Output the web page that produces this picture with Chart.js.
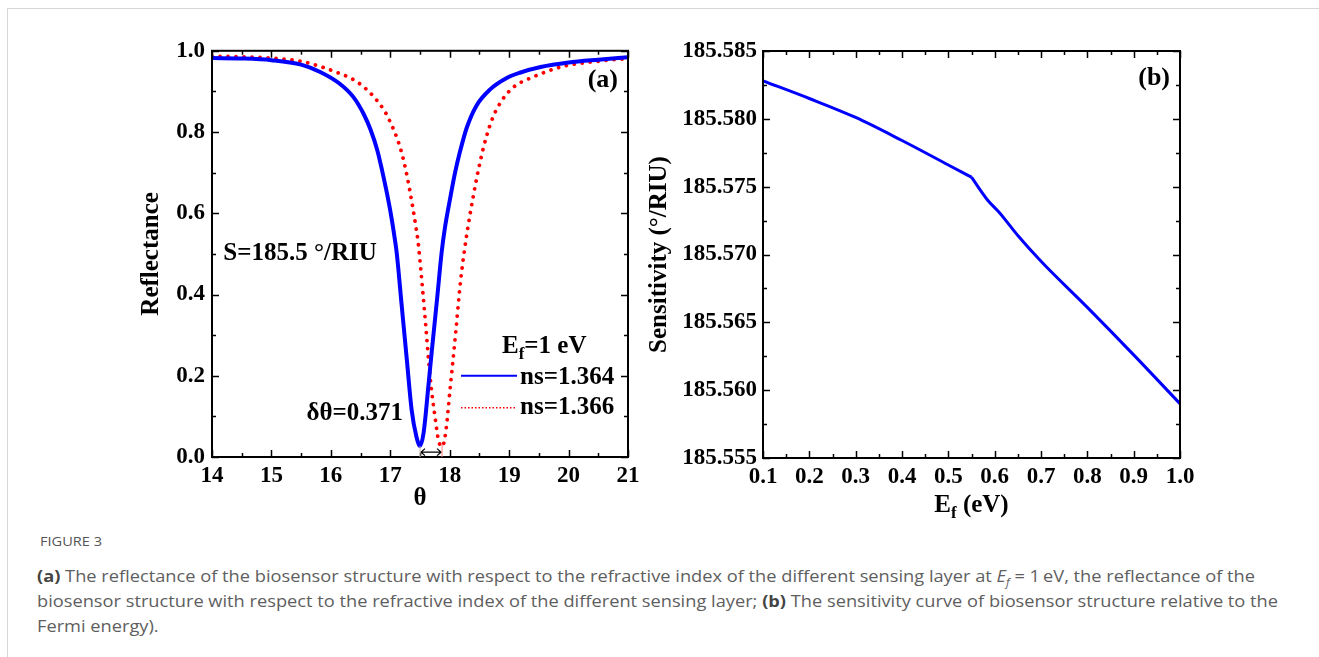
<!DOCTYPE html>
<html><head><meta charset="utf-8">
<script src="https://cdn.jsdelivr.net/npm/chart.js@4.4.0/dist/chart.umd.min.js"></script>
<style>
html,body{margin:0;padding:0;background:#fff;width:1319px;height:657px;overflow:hidden;position:relative;}
#lineTop{position:absolute;left:7px;top:8px;width:1312px;height:1px;background:#d6d6d6;}
#lineLeft{position:absolute;left:7px;top:8px;width:1px;height:649px;background:#d6d6d6;}
#ca{position:absolute;left:130px;top:30px;}
#cb{position:absolute;left:640px;top:30px;}
.cap{position:absolute;left:37px;font-family:'Open Sans';font-size:15.5px;color:#5e5e5e;white-space:nowrap;transform-origin:0 50%;line-height:20px;}
.cap b{color:#444;font-weight:700;}
#fig{position:absolute;left:40px;top:532px;font-family:'Open Sans';font-size:13.5px;color:#555;white-space:nowrap;line-height:18px;transform-origin:0 50%;}
</style></head><body>
<div id="lineTop"></div><div id="lineLeft"></div>
<canvas id="ca" width="520" height="490"></canvas>
<canvas id="cb" width="560" height="490"></canvas>
<div id="fig">FIGURE 3</div>
<div class="cap" id="l1" style="top:566px"><b>(a)</b> The reflectance of the biosensor structure with respect to the refractive index of the different sensing layer at <i>E<sub style="font-size:10px">f</sub></i> = 1&#8201;eV, the reflectance of the</div>
<div class="cap" id="l2" style="top:591px">biosensor structure with respect to the refractive index of the different sensing layer; <b>(b)</b> The sensitivity curve of biosensor structure relative to the</div>
<div class="cap" id="l3" style="top:616px">Fermi energy).</div>
<script>
// ---- data: panel (a) reflectance vs theta ----
const thetaBlue = [14.0,14.5,15.0,15.5,15.82,16.15,16.38,16.55,16.67,16.78,16.86,16.94,17.01,17.08,17.11,17.19,17.28,17.36,17.44,17.50,17.56,17.64,17.70,17.79,17.865,17.92,18.005,18.09,18.17,18.285,18.45,18.68,18.96,19.18,19.53,20.0,20.5,21.0];
const reflBlue  = [0.982,0.981,0.977,0.966,0.948,0.919,0.886,0.845,0.805,0.756,0.707,0.652,0.598,0.533,0.500,0.376,0.237,0.115,0.050,0.027,0.059,0.173,0.263,0.393,0.505,0.565,0.635,0.700,0.750,0.810,0.865,0.905,0.933,0.946,0.960,0.971,0.978,0.984];
const thetaRed  = [14.0,14.5,15.0,15.5,15.85,16.10,16.38,16.57,16.74,16.91,17.02,17.135,17.22,17.29,17.36,17.43,17.47,17.51,17.59,17.67,17.76,17.81,17.87,17.93,18.01,18.10,18.18,18.257,18.313,18.397,18.48,18.565,18.71,18.87,19.07,19.36,19.92,20.48,21.0];
const reflRed   = [0.987,0.985,0.982,0.974,0.960,0.947,0.929,0.909,0.884,0.850,0.818,0.776,0.733,0.686,0.630,0.568,0.527,0.467,0.335,0.197,0.091,0.042,0.025,0.058,0.173,0.305,0.430,0.518,0.572,0.643,0.705,0.760,0.830,0.876,0.910,0.933,0.962,0.974,0.981];
// ---- data: panel (b) sensitivity vs Fermi energy ----
const efValues   = [0.10,0.20,0.30,0.40,0.50,0.55,0.585,0.61,0.65,0.70,0.80,0.90,1.00];
const sensValues = [185.5828,185.5815,185.5801,185.5784,185.5766,185.5757,185.5740,185.5731,185.5714,185.5695,185.5661,185.5626,185.5590];
const kinkEf = 0.55;
// ---- tick labels ----
const xTicksA = [14,15,16,17,18,19,20,21];
const yTicksA = [0.0,0.2,0.4,0.6,0.8,1.0];
const xTicksB = [0.1,0.2,0.3,0.4,0.5,0.6,0.7,0.8,0.9,1.0];
const yTicksB = [185.555,185.560,185.565,185.570,185.575,185.580,185.585];
// ---- texts ----
const seriesLabels = ['ns=1.364','ns=1.366'];
const sensText = 'S=185.5 °/RIU';
const deltaText = 'δθ=0.371';
const blueMinTheta = 17.50, redMinTheta = 17.871;

const SERIF = '"Liberation Serif", "Times New Roman", serif';
const BLUE = '#0000ff', RED = '#ff0000';

function font(sz){ return `bold ${sz}px ${SERIF}`; }
function txt(ctx, s, x, y, sz, align){
  ctx.font = font(sz); ctx.textAlign = align || 'left'; ctx.textBaseline = 'middle';
  ctx.fillStyle = '#000'; ctx.fillText(s, x, y);
}
function subText(ctx, x, y, main, sub, rest, sz, center){
  ctx.font = font(sz); const w1 = ctx.measureText(main).width;
  ctx.font = font(Math.round(sz*0.66)); const w2 = ctx.measureText(sub).width;
  ctx.font = font(sz); const w3 = ctx.measureText(rest).width;
  let x0 = center ? x - (w1+w2+w3)/2 : x;
  txt(ctx, main, x0, y, sz, 'left');
  txt(ctx, sub, x0 + w1, y + sz*0.3, Math.round(sz*0.66), 'left');
  txt(ctx, rest, x0 + w1 + w2, y, sz, 'left');
}

function boxPlugin(extra){
  return { id:'box', afterDatasetsDraw(chart){
    const ctx = chart.ctx, a = chart.chartArea, xs = chart.scales.x, ys = chart.scales.y;
    ctx.save();
    ctx.strokeStyle = '#000'; ctx.lineWidth = 1.5; ctx.lineCap = 'butt';
    const xt = xs.ticks.map(t=>t.value), yt = ys.ticks.map(t=>t.value);
    ctx.beginPath();
    xt.forEach((v,i)=>{
      const p = Math.round(xs.getPixelForValue(v))+0.5;
      ctx.moveTo(p,a.bottom); ctx.lineTo(p,a.bottom-7);
      ctx.moveTo(p,a.top); ctx.lineTo(p,a.top+7);
      if(i<xt.length-1){
        const m = Math.round(xs.getPixelForValue((v+xt[i+1])/2))+0.5;
        ctx.moveTo(m,a.bottom); ctx.lineTo(m,a.bottom-4);
        ctx.moveTo(m,a.top); ctx.lineTo(m,a.top+4);
      }
    });
    yt.forEach((v,i)=>{
      const p = Math.round(ys.getPixelForValue(v))+0.5;
      ctx.moveTo(a.left,p); ctx.lineTo(a.left+7,p);
      ctx.moveTo(a.right,p); ctx.lineTo(a.right-7,p);
      if(i<yt.length-1){
        const m = Math.round(ys.getPixelForValue((v+yt[i+1])/2))+0.5;
        ctx.moveTo(a.left,m); ctx.lineTo(a.left+4,m);
        ctx.moveTo(a.right,m); ctx.lineTo(a.right-4,m);
      }
    });
    ctx.stroke();
    ctx.lineWidth = 2;
    ctx.strokeRect(a.left, a.top, a.right-a.left, a.bottom-a.top);
    if(extra) extra(chart, ctx, a, xs, ys);
    ctx.restore();
  }};
}

function scaleX(min, max, ticks, fmt, title){
  return { type:'linear', min, max,
    afterBuildTicks: s => { s.ticks = ticks.map(v=>({value:v})); },
    afterFit: s => { s.height = title.h; },
    grid:{ display:false, drawTicks:false }, border:{ display:false },
    ticks:{ color:'#000', padding:5, font:{family:SERIF, size:23, weight:'bold'}, callback: v => fmt(v), maxRotation:0, autoSkip:false },
    title: title.text ? { display:true, text:title.text, color:'#000', font:{family:SERIF, size:25, weight:'bold'}, padding:{top:0,bottom:title.pad} } : {display:false}
  };
}
function scaleY(min, max, ticks, fmt, title){
  return { type:'linear', min, max,
    afterBuildTicks: s => { s.ticks = ticks.map(v=>({value:v})); },
    afterFit: s => { s.width = title.w; },
    grid:{ display:false, drawTicks:false }, border:{ display:false },
    ticks:{ color:'#000', padding:title.tp, font:{family:SERIF, size:23, weight:'bold'}, callback: v => fmt(v), autoSkip:false },
    title:{ display:true, text:title.text, color:'#000', font:{family:SERIF, size:25, weight:'bold'}, padding:{top:title.pad,bottom:0} }
  };
}

// ---------- Panel (a) ----------
const extraA = (chart, ctx, a, xs, ys) => {
  txt(ctx, '(a)', a.right-10, a.top+29, 26, 'right');
  txt(ctx, sensText, xs.getPixelForValue(14.19), ys.getPixelForValue(0.50), 25, 'left');
  txt(ctx, deltaText, xs.getPixelForValue(17.215), ys.getPixelForValue(0.108), 25, 'right');
  const x1 = xs.getPixelForValue(blueMinTheta), x2 = xs.getPixelForValue(redMinTheta), ya = ys.getPixelForValue(0.012);
  ctx.strokeStyle = '#000'; ctx.lineWidth = 1.3;
  ctx.beginPath();
  ctx.moveTo(x1+1, ya); ctx.lineTo(x2-1, ya);
  ctx.moveTo(x1+5, ya-3.5); ctx.lineTo(x1+1, ya); ctx.lineTo(x1+5, ya+3.5);
  ctx.moveTo(x2-5, ya-3.5); ctx.lineTo(x2-1, ya); ctx.lineTo(x2-5, ya+3.5);
  ctx.stroke();
  ctx.lineWidth = 1;
  ctx.strokeStyle = '#c8b4b4';
  ctx.beginPath(); ctx.moveTo(x1, ys.getPixelForValue(0.027)); ctx.lineTo(x1, a.bottom); ctx.stroke();
  ctx.strokeStyle = '#ff8080';
  ctx.beginPath(); ctx.moveTo(x2, ys.getPixelForValue(0.03)); ctx.lineTo(x2, a.bottom); ctx.stroke();
  subText(ctx, a.left+290, a.top+296, 'E', 'f', '=1 eV', 25, false);
  ctx.strokeStyle = BLUE; ctx.lineWidth = 2; ctx.setLineDash([]);
  ctx.beginPath(); ctx.moveTo(a.left+249, a.top+325); ctx.lineTo(a.left+305, a.top+325); ctx.stroke();
  txt(ctx, seriesLabels[0], a.left+308, a.top+327, 25, 'left');
  ctx.strokeStyle = RED; ctx.lineWidth = 1.5; ctx.setLineDash([1.5,2]);
  ctx.beginPath(); ctx.moveTo(a.left+249, a.top+357); ctx.lineTo(a.left+305, a.top+357); ctx.stroke();
  ctx.setLineDash([]);
  txt(ctx, seriesLabels[1], a.left+308, a.top+357, 25, 'left');
};

new Chart(document.getElementById('ca'), {
  type:'line',
  data:{ datasets:[
    { label:seriesLabels[0], data: thetaBlue.map((t,i)=>({x:t, y:reflBlue[i]})), borderColor:BLUE, borderWidth:4, pointRadius:0, cubicInterpolationMode:'monotone', fill:false },
    { label:seriesLabels[1], data: thetaRed.map((t,i)=>({x:t, y:reflRed[i]})), borderColor:RED, borderWidth:3.8, borderDash:[0.01,8], borderCapStyle:'round', pointRadius:0, cubicInterpolationMode:'monotone', fill:false }
  ]},
  options:{ responsive:false, animation:false, devicePixelRatio:1,
    layout:{ padding:{ top:18.5, right:22, left:0, bottom:0 } },
    plugins:{ legend:{display:false}, tooltip:{enabled:false} },
    scales:{
      x: scaleX(14, 21, xTicksA, v=>String(Math.round(v)), {text:'θ', pad:6, h:63}),
      y: scaleY(0, 1, yTicksA, v=>v.toFixed(1), {text:'Reflectance', pad:7, w:82, tp:7})
    }
  },
  plugins:[ boxPlugin(extraA) ]
});

// ---------- Panel (b) ----------
const extraB = (chart, ctx, a, xs, ys) => {
  txt(ctx, '(b)', a.right-10, a.top+27, 26, 'right');
  subText(ctx, (a.left+a.right)/2, a.bottom+48, 'E', 'f', ' (eV)', 25, true);
};
const ptsB = efValues.map((e,i)=>({x:e, y:sensValues[i]}));
new Chart(document.getElementById('cb'), {
  type:'line',
  data:{ datasets:[
    { label:'Sensitivity', data: ptsB.filter(p=>p.x<=kinkEf), borderColor:BLUE, borderWidth:3, pointRadius:0, cubicInterpolationMode:'monotone', fill:false },
    { label:'Sensitivity ', data: ptsB.filter(p=>p.x>=kinkEf), borderColor:BLUE, borderWidth:3, pointRadius:0, cubicInterpolationMode:'monotone', fill:false }
  ]},
  options:{ responsive:false, animation:false, devicePixelRatio:1,
    layout:{ padding:{ top:21, right:20, left:0, bottom:0 } },
    plugins:{ legend:{display:false}, tooltip:{enabled:false} },
    scales:{
      x: scaleX(0.1, 1.0, xTicksB, v=>v.toFixed(1), {text:'', pad:0, h:62}),
      y: scaleY(185.555, 185.585, yTicksB, v=>v.toFixed(3), {text:'Sensitivity (°/RIU)', pad:5, w:123, tp:6})
    }
  },
  plugins:[ boxPlugin(extraB) ]
});

function fit(id, w){ const el=document.getElementById(id); const r=el.getBoundingClientRect().width; if(r>0) el.style.transform=`scaleX(${w/r})`; }
fit('l1', 1218); fit('l2', 1241); fit('fig', 62);
document.getElementById('l3').style.transform = document.getElementById('l2').style.transform;
</script>
</body></html>
